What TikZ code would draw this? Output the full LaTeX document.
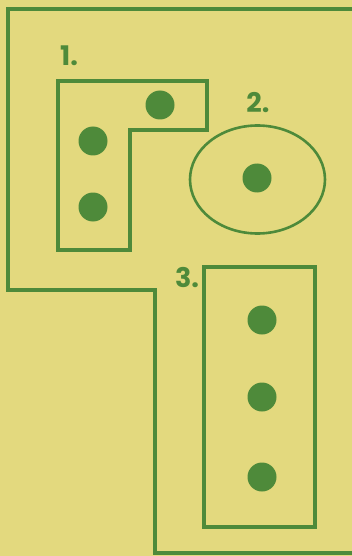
\documentclass[tikz,border=0pt]{standalone}
\usepackage{fontspec}
\setmainfont{Poppins}
\definecolor{bg}{HTML}{E3D97E}
\definecolor{leaf}{HTML}{4E8A3A}
\begin{document}
\begin{tikzpicture}[x=1pt,y=-1pt,
  wall/.style={draw=leaf,line width=3.6pt,line join=miter},
  dot/.style={circle,fill=leaf,minimum size=29pt,inner sep=0pt},
  lbl/.style={text=leaf,font=\bfseries\fontsize{27}{27}\selectfont,inner sep=0pt}]
\fill[bg] (0,0) rectangle (352,556);
\useasboundingbox (0,0) rectangle (352,556);
% outer boundary
\draw[wall] (360,9) -- (8,9) -- (8,290) -- (155,290) -- (155,553) -- (360,553);
% area 1
\draw[wall] (58,81) -- (207,81) -- (207,130) -- (130,130) -- (130,250) -- (58,250) -- cycle;
\node[dot] (d1a) at (160,105) {};
\node[dot] (d1b) at (93,141) {};
\node[dot] (d1c) at (93,207) {};
\node[lbl] (l1) at (69,56) {1.};
% area 2
\draw[leaf,line width=2.6pt] (257.5,179.5) ellipse [x radius=67.5, y radius=54];
\node[dot] (d2) at (257,178) {};
\node[lbl] (l2) at (258,103) {2.};
% area 3
\draw[wall] (204,267) rectangle (315,527);
\node[dot] (d3a) at (262,320) {};
\node[dot] (d3b) at (262,397) {};
\node[dot] (d3c) at (262,477) {};
\node[lbl] (l3) at (187,278) {3.};
\end{tikzpicture}
\end{document}
